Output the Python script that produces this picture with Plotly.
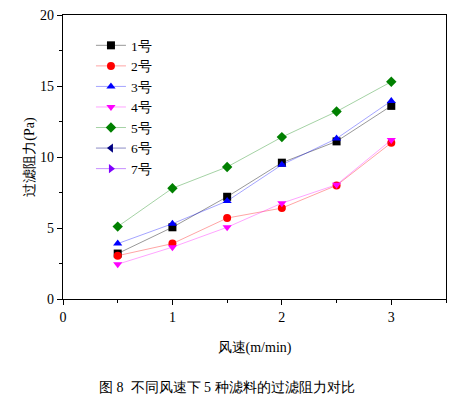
import plotly.graph_objects as go

wind_speed = [0.5, 1.0, 1.5, 2.0, 2.5, 3.0]
series_names = ["1号", "2号", "3号", "4号", "5号", "6号", "7号"]
s1 = [3.2, 5.05, 7.2, 9.6, 11.1, 13.6]
s2 = [3.05, 3.9, 5.7, 6.4, 8.0, 11.0]
s3 = [3.9, 5.3, 6.9, 9.45, 11.3, 13.95]
s4 = [2.45, 3.65, 5.05, 6.75, 8.05, 11.2]
s5 = [5.1, 7.8, 9.3, 11.4, 13.2, 15.3]
s6 = []
s7 = []
x_ticks = [0, 1, 2, 3]
y_ticks = [0, 5, 10, 15, 20]

values = [s1, s2, s3, s4, s5, s6, s7]
marker_colors = ["#000000", "#ff0000", "#0000ff", "#ff00ff", "#008000", "#000080", "#8000ff"]
line_colors = ["rgba(0,0,0,0.45)", "rgba(255,0,0,0.4)", "rgba(0,0,255,0.4)", "rgba(255,0,255,0.4)",
               "rgba(0,128,0,0.4)", "rgba(0,0,128,0.5)", "rgba(128,0,255,0.5)"]
symbols = ["square", "circle", "triangle-up", "triangle-down", "diamond", "triangle-left", "triangle-right"]

fig = go.Figure()
for name, vals, mc, lc, sym in zip(series_names, values, marker_colors, line_colors, symbols):
    xs = wind_speed[:len(vals)] if vals else [None]
    ys = vals if vals else [None]
    fig.add_trace(go.Scatter(
        x=xs, y=ys, name=name, mode="lines+markers",
        line=dict(color=lc, width=0.9),
        marker=dict(symbol=sym, color=mc, size=8, line=dict(width=0)),
    ))

serif = "Times New Roman, Liberation Serif, serif"
axis_common = dict(
    showline=True, linecolor="black", linewidth=1.2, mirror=True,
    ticks="outside", ticklen=5, tickwidth=1, tickcolor="black",
    showgrid=False, zeroline=False,
    tickfont=dict(family=serif, size=14, color="black"),
)
fig.update_xaxes(range=[0, 3.5], tickvals=x_ticks,
                 minor=dict(dtick=0.5, ticks="outside", ticklen=3, tickcolor="black"),
                 title=dict(text="风速(m/min)", font=dict(family=serif, size=14, color="black"), standoff=18),
                 **axis_common)
fig.update_yaxes(range=[0, 20], tickvals=y_ticks,
                 minor=dict(dtick=2.5, ticks="outside", ticklen=3, tickcolor="black"),
                 title=dict(text="过滤阻力(Pa)", font=dict(family=serif, size=14, color="black"), standoff=2),
                 **axis_common)

fig.update_layout(
    width=451, height=399,
    margin=dict(l=63, r=5, t=15, b=100),
    plot_bgcolor="white", paper_bgcolor="white",
    font=dict(family=serif, color="black"),
    legend=dict(x=0.073, y=0.947, xanchor="left", yanchor="top",
                bgcolor="rgba(0,0,0,0)", font=dict(family=serif, size=13.5, color="black"),
                tracegroupgap=0, itemwidth=30),
    showlegend=True,
    annotations=[dict(text="图 8  不同风速下 5 种滤料的过滤阻力对比", xref="paper", yref="paper",
                      x=0.428, y=-0.31, xanchor="center", yanchor="middle", showarrow=False,
                      font=dict(family=serif, size=14, color="black"))],
)

fig.write_html("out.html", config={"displayModeBar": False},
               post_script="document.body.style.margin='0';document.body.style.overflow='hidden';")
